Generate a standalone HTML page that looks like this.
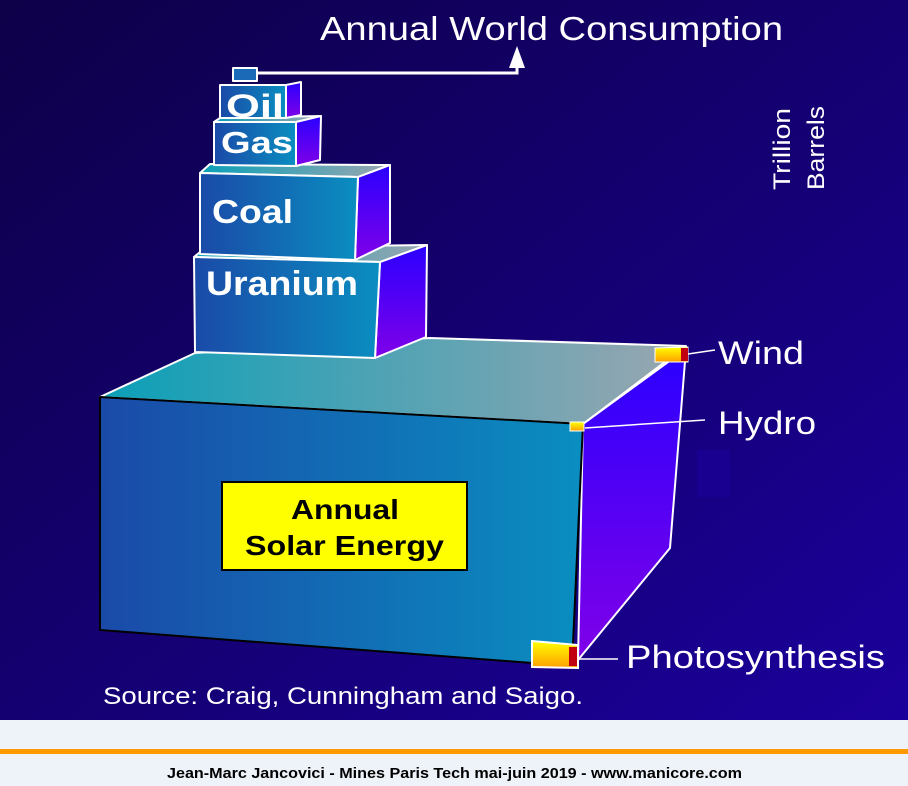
<!DOCTYPE html>
<html><head><meta charset="utf-8"><style>
html,body{margin:0;padding:0;width:908px;height:786px;overflow:hidden;background:#eef2f9}
svg{display:block}
text{font-family:"Liberation Sans",sans-serif}
</style></head><body>
<svg width="908" height="786" viewBox="0 0 908 786">
<defs>
<linearGradient id="bg" x1="0" y1="0" x2="1" y2="1"><stop offset="0" stop-color="#0e0048"/><stop offset="0.5" stop-color="#140070"/><stop offset="1" stop-color="#1c009c"/></linearGradient>
<linearGradient id="front" x1="0" y1="0" x2="1" y2="0"><stop offset="0" stop-color="#1a4aa8"/><stop offset="1" stop-color="#0a8ec0"/></linearGradient>
<linearGradient id="top" x1="0" y1="0" x2="1" y2="0"><stop offset="0" stop-color="#0aa0b8"/><stop offset="1" stop-color="#9aa6b0"/></linearGradient>
<linearGradient id="side" x1="0" y1="0" x2="0" y2="1"><stop offset="0" stop-color="#2a00ff"/><stop offset="1" stop-color="#8000e8"/></linearGradient>
<linearGradient id="yel" x1="0" y1="0" x2="0" y2="1"><stop offset="0" stop-color="#ffff00"/><stop offset="1" stop-color="#ffa000"/></linearGradient>
</defs>
<rect x="0" y="0" width="908" height="720" fill="url(#bg)"/>
<text x="320" y="40" fill="#fff" font-size="33" textLength="463" lengthAdjust="spacingAndGlyphs">Annual World Consumption</text>
<polyline points="257,73 517,73 517,55" fill="none" stroke="#fff" stroke-width="3"/>
<polygon points="509,68 517,46 525,68" fill="#fff"/>
<text transform="translate(790,190) rotate(-90)" fill="#fff" font-size="24" textLength="82" lengthAdjust="spacingAndGlyphs">Trillion</text>
<text transform="translate(824,190) rotate(-90)" fill="#fff" font-size="24" textLength="84" lengthAdjust="spacingAndGlyphs">Barrels</text>
<rect x="697" y="450" width="33" height="47" fill="#1a0090"/>
<g stroke="#fff" stroke-width="2" stroke-linejoin="round">
<polygon points="100,397 195,353 430,338 686,346 583,424" fill="url(#top)"/>
<polygon points="583,424 686,349 670,548 578,660" fill="url(#side)"/>
<polygon points="100,397 583,424 572,666 100,630" fill="url(#front)" stroke="#000"/>
</g>
<g stroke="#fff" stroke-width="2" stroke-linejoin="round">
<polygon points="194,257 205,248 427,245 380,262" fill="url(#top)"/>
<polygon points="380,262 427,245 426,337 375,358" fill="url(#side)"/>
<polygon points="194,257 380,262 375,358 195,352" fill="url(#front)"/>
</g>
<g stroke="#fff" stroke-width="2" stroke-linejoin="round">
<polygon points="200,173 210,164 390,165 358,177" fill="url(#top)"/>
<polygon points="358,177 390,165 390,243 355,260" fill="url(#side)"/>
<polygon points="200,173 358,177 355,260 200,254" fill="url(#front)"/>
</g>
<g stroke="#fff" stroke-width="2" stroke-linejoin="round">
<polygon points="214,122 220,118 321,116 296,122" fill="url(#top)"/>
<polygon points="296,122 321,116 320,160 296,166" fill="url(#side)"/>
<polygon points="214,122 296,122 296,166 214,165" fill="url(#front)"/>
</g>
<g stroke="#fff" stroke-width="2" stroke-linejoin="round">
<polygon points="220,85 286,85 286,118 220,118" fill="url(#front)"/>
<polygon points="286,85 301,82 301,115 286,118" fill="url(#side)"/>
<rect x="233" y="68" width="24" height="13" fill="#1a6ab8"/>
</g>
<text x="226" y="117" fill="#fff" font-size="32" font-weight="bold" textLength="58" lengthAdjust="spacingAndGlyphs">Oil</text>
<text x="221" y="153" fill="#fff" font-size="31" font-weight="bold" textLength="72" lengthAdjust="spacingAndGlyphs">Gas</text>
<text x="212" y="223" fill="#fff" font-size="33" font-weight="bold" textLength="81" lengthAdjust="spacingAndGlyphs">Coal</text>
<text x="206" y="295" fill="#fff" font-size="34" font-weight="bold" textLength="152" lengthAdjust="spacingAndGlyphs">Uranium</text>
<rect x="222" y="482" width="245" height="88" fill="#ffff00" stroke="#000" stroke-width="2"/>
<text x="291" y="519" fill="#000" font-size="28" font-weight="bold" textLength="108" lengthAdjust="spacingAndGlyphs">Annual</text>
<text x="245" y="555" fill="#000" font-size="28" font-weight="bold" textLength="199" lengthAdjust="spacingAndGlyphs">Solar Energy</text>
<g stroke="#fff" stroke-width="1.5">
<line x1="688" y1="354" x2="715" y2="350"/>
<line x1="585" y1="428" x2="705" y2="420"/>
<line x1="578" y1="659" x2="618" y2="659"/>
</g>
<polygon points="655,348 688,347 688,362 655,362" fill="url(#yel)" stroke="#fff"/>
<rect x="681" y="348" width="7" height="13" fill="#c00010"/>
<rect x="570" y="422" width="14" height="9" fill="url(#yel)" stroke="#fff"/>
<polygon points="532,641 578,645 578,668 532,667" fill="url(#yel)" stroke="#fff" stroke-width="2"/>
<rect x="569" y="647" width="8" height="19" fill="#c00010"/>
<text x="718" y="364" fill="#fff" font-size="32" textLength="86" lengthAdjust="spacingAndGlyphs">Wind</text>
<text x="718" y="434" fill="#fff" font-size="32" textLength="98" lengthAdjust="spacingAndGlyphs">Hydro</text>
<text x="626" y="668" fill="#fff" font-size="32" textLength="259" lengthAdjust="spacingAndGlyphs">Photosynthesis</text>
<text x="103" y="704" fill="#fff" font-size="24" textLength="480" lengthAdjust="spacingAndGlyphs">Source:  Craig, Cunningham and Saigo.</text>
<rect x="0" y="720" width="908" height="29" fill="#eef2f9"/>
<rect x="0" y="749" width="908" height="5" fill="#ff9900"/>
<text x="167" y="778" fill="#000" font-size="15" font-weight="bold" textLength="575" lengthAdjust="spacingAndGlyphs">Jean-Marc Jancovici - Mines Paris Tech mai-juin 2019 - www.manicore.com</text>
</svg>
</body></html>
